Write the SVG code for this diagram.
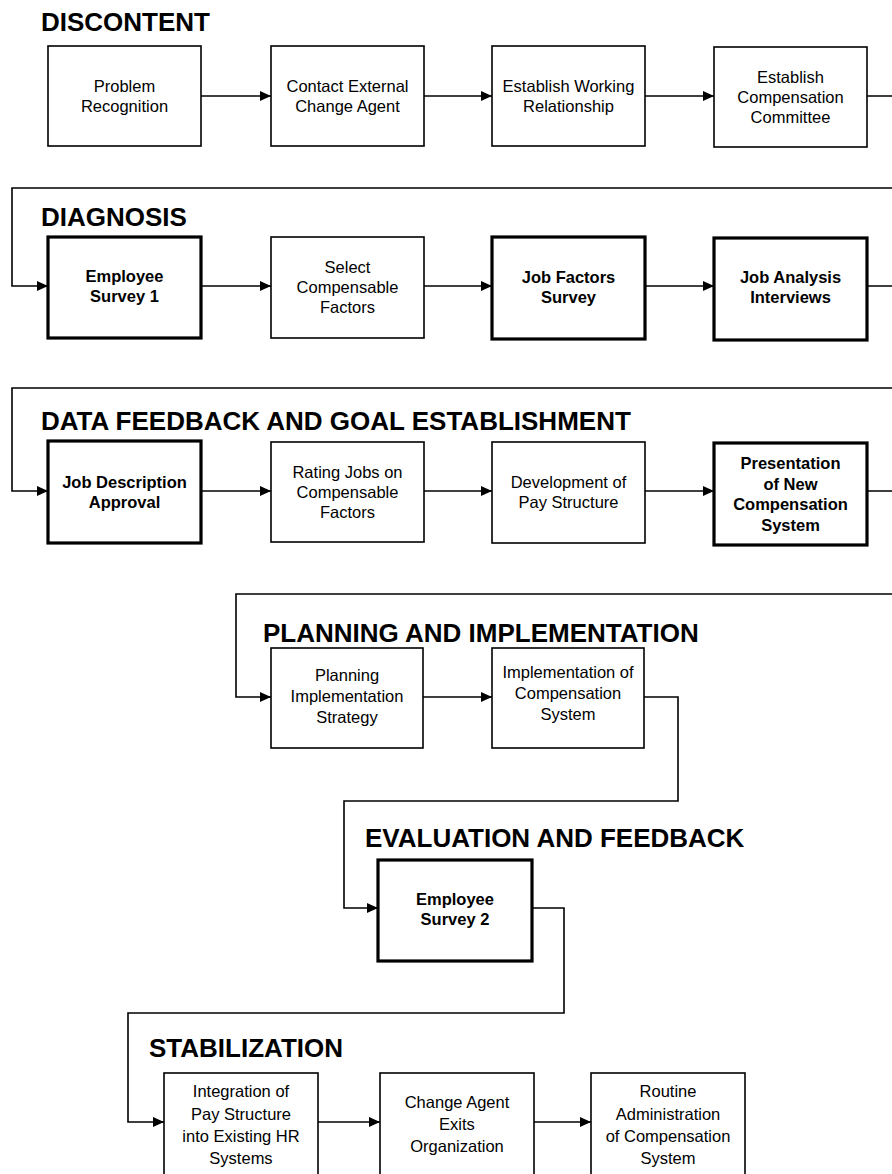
<svg xmlns="http://www.w3.org/2000/svg" width="892" height="1174" viewBox="0 0 892 1174">
<style>
.bg{fill:#fff}
.box{fill:#fff;stroke:#000;stroke-width:1.6}
.thick{stroke-width:3.2}
.t{font-family:"Liberation Sans",Arial,sans-serif;font-size:16.5px;fill:#000;text-anchor:middle}
.b{font-weight:bold}
.h{font-family:"Liberation Sans",Arial,sans-serif;font-size:26px;font-weight:bold;fill:#000}
.c{fill:none;stroke:#000;stroke-width:1.6}
</style>
<defs>
<marker id="arr" markerUnits="userSpaceOnUse" markerWidth="12" markerHeight="10" refX="11" refY="5" orient="auto">
<path d="M0,0 L11,5 L0,10 Z" fill="#000"/>
</marker>
</defs>
<rect class="bg" x="0" y="0" width="892" height="1174"/>

<g id="titles">
<text class="h" x="41" y="31">DISCONTENT</text>
<text class="h" x="41" y="226">DIAGNOSIS</text>
<text class="h" x="41" y="430">DATA FEEDBACK AND GOAL ESTABLISHMENT</text>
<text class="h" x="263" y="642">PLANNING AND IMPLEMENTATION</text>
<text class="h" x="365" y="847">EVALUATION AND FEEDBACK</text>
<text class="h" x="149" y="1057">STABILIZATION</text>
</g>

<g id="connectors">
<path class="c" d="M201,96 H271" marker-end="url(#arr)"/>
<path class="c" d="M424,96 H492" marker-end="url(#arr)"/>
<path class="c" d="M645,96 H714" marker-end="url(#arr)"/>
<path class="c" d="M867,96 H897 V188 H12 V286 H48" marker-end="url(#arr)"/>
<path class="c" d="M201,286 H271" marker-end="url(#arr)"/>
<path class="c" d="M424,286 H492" marker-end="url(#arr)"/>
<path class="c" d="M645,286 H714" marker-end="url(#arr)"/>
<path class="c" d="M867,286 H897 V388 H12 V491 H48" marker-end="url(#arr)"/>
<path class="c" d="M201,491 H271" marker-end="url(#arr)"/>
<path class="c" d="M424,491 H492" marker-end="url(#arr)"/>
<path class="c" d="M645,491 H714" marker-end="url(#arr)"/>
<path class="c" d="M867,491 H897 V594 H236 V697 H271" marker-end="url(#arr)"/>
<path class="c" d="M423,697 H492" marker-end="url(#arr)"/>
<path class="c" d="M644,697 H678 V801 H344 V908 H378" marker-end="url(#arr)"/>
<path class="c" d="M532,908 H564 V1013 H128 V1122 H164" marker-end="url(#arr)"/>
<path class="c" d="M318,1122 H380" marker-end="url(#arr)"/>
<path class="c" d="M534,1122 H591" marker-end="url(#arr)"/>
</g>

<g id="n-problem-recognition">
<rect class="box" x="48" y="46" width="153" height="100"/>
<text class="t" x="124.5" y="92">Problem</text>
<text class="t" x="124.5" y="112">Recognition</text>
</g>
<g id="n-contact-agent">
<rect class="box" x="271" y="46" width="153" height="100"/>
<text class="t" x="347.5" y="92">Contact External</text>
<text class="t" x="347.5" y="112">Change Agent</text>
</g>
<g id="n-working-relationship">
<rect class="box" x="492" y="46" width="153" height="100"/>
<text class="t" x="568.5" y="92">Establish Working</text>
<text class="t" x="568.5" y="112">Relationship</text>
</g>
<g id="n-compensation-committee">
<rect class="box" x="714" y="47" width="153" height="100"/>
<text class="t" x="790.5" y="83">Establish</text>
<text class="t" x="790.5" y="103">Compensation</text>
<text class="t" x="790.5" y="123">Committee</text>
</g>

<g id="n-employee-survey-1">
<rect class="box thick" x="48" y="237" width="153" height="101"/>
<text class="t b" x="124.5" y="282">Employee</text>
<text class="t b" x="124.5" y="302">Survey 1</text>
</g>
<g id="n-select-factors">
<rect class="box" x="271" y="237" width="153" height="101"/>
<text class="t" x="347.5" y="273">Select</text>
<text class="t" x="347.5" y="293">Compensable</text>
<text class="t" x="347.5" y="313">Factors</text>
</g>
<g id="n-job-factors-survey">
<rect class="box thick" x="492" y="237" width="153" height="102"/>
<text class="t b" x="568.5" y="283">Job Factors</text>
<text class="t b" x="568.5" y="303">Survey</text>
</g>
<g id="n-job-analysis">
<rect class="box thick" x="714" y="238" width="153" height="102"/>
<text class="t b" x="790.5" y="283">Job Analysis</text>
<text class="t b" x="790.5" y="303">Interviews</text>
</g>

<g id="n-job-description">
<rect class="box thick" x="48" y="441" width="153" height="102"/>
<text class="t b" x="124.5" y="488">Job Description</text>
<text class="t b" x="124.5" y="508">Approval</text>
</g>
<g id="n-rating-jobs">
<rect class="box" x="271" y="442" width="153" height="100"/>
<text class="t" x="347.5" y="478">Rating Jobs on</text>
<text class="t" x="347.5" y="498">Compensable</text>
<text class="t" x="347.5" y="518">Factors</text>
</g>
<g id="n-pay-structure">
<rect class="box" x="492" y="442" width="153" height="101"/>
<text class="t" x="568.5" y="488">Development of</text>
<text class="t" x="568.5" y="508">Pay Structure</text>
</g>
<g id="n-presentation">
<rect class="box thick" x="714" y="443" width="153" height="102"/>
<text class="t b" x="790.5" y="469">Presentation</text>
<text class="t b" x="790.5" y="489.5">of New</text>
<text class="t b" x="790.5" y="510">Compensation</text>
<text class="t b" x="790.5" y="530.5">System</text>
</g>

<g id="n-planning-strategy">
<rect class="box" x="271" y="648" width="152" height="100"/>
<text class="t" x="347" y="681">Planning</text>
<text class="t" x="347" y="702">Implementation</text>
<text class="t" x="347" y="723">Strategy</text>
</g>
<g id="n-implementation">
<rect class="box" x="492" y="648" width="152" height="100"/>
<text class="t" x="568" y="678">Implementation of</text>
<text class="t" x="568" y="699">Compensation</text>
<text class="t" x="568" y="720">System</text>
</g>

<g id="n-employee-survey-2">
<rect class="box thick" x="378" y="860" width="154" height="101"/>
<text class="t b" x="455" y="905">Employee</text>
<text class="t b" x="455" y="925">Survey 2</text>
</g>

<g id="n-integration">
<rect class="box" x="164" y="1073" width="154" height="110"/>
<text class="t" x="241" y="1097">Integration of</text>
<text class="t" x="241" y="1119.5">Pay Structure</text>
<text class="t" x="241" y="1142">into Existing HR</text>
<text class="t" x="241" y="1164">Systems</text>
</g>
<g id="n-agent-exits">
<rect class="box" x="380" y="1073" width="154" height="110"/>
<text class="t" x="457" y="1108">Change Agent</text>
<text class="t" x="457" y="1130">Exits</text>
<text class="t" x="457" y="1152">Organization</text>
</g>
<g id="n-routine-admin">
<rect class="box" x="591" y="1073" width="154" height="110"/>
<text class="t" x="668" y="1097">Routine</text>
<text class="t" x="668" y="1119.5">Administration</text>
<text class="t" x="668" y="1142">of Compensation</text>
<text class="t" x="668" y="1164">System</text>
</g>
</svg>
